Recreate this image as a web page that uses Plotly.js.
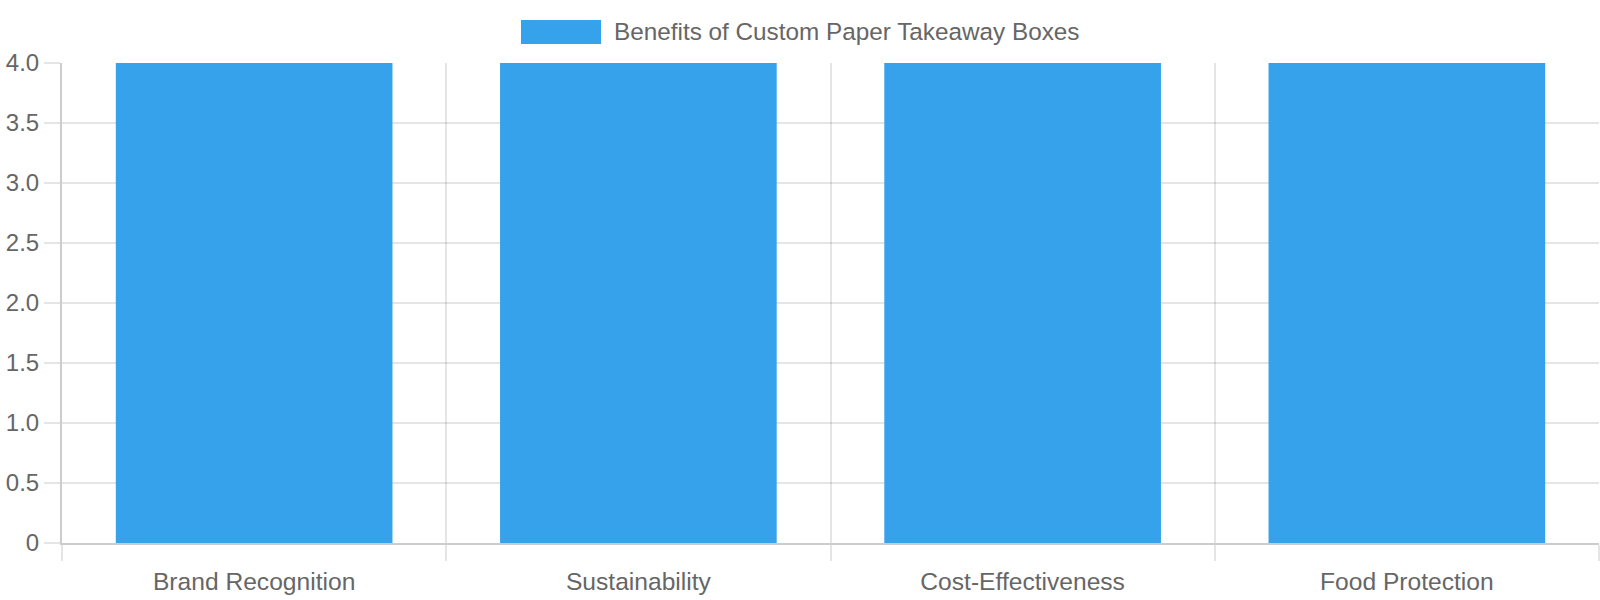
<!DOCTYPE html>
<html>
<head>
<meta charset="utf-8">
<script src="https://cdn.plot.ly/plotly-3.0.1.min.js"></script>
<style>
  html, body { margin: 0; padding: 0; background: #fff; }
  #chart { width: 1600px; height: 600px; }
</style>
</head>
<body>
<div id="chart"></div>
<script>
var seriesName = 'Benefits of Custom Paper Takeaway Boxes';
var categories = ['Brand Recognition', 'Sustainability', 'Cost-Effectiveness', 'Food Protection'];
var values = [4, 4, 4, 4];
var yTickVals = [0, 0.5, 1, 1.5, 2, 2.5, 3, 3.5, 4];
var yTickText = ['0', '0.5', '1.0', '1.5', '2.0', '2.5', '3.0', '3.5', '4.0'];

var barColor = '#36a2eb';
var gridColor = 'rgba(0,0,0,0.1)';
var axisColor = 'rgba(0,0,0,0.2)';
var textColor = '#666666';
var fontFamily = '"Liberation Sans", Arial, sans-serif';
var fontSize = 24.6;

var W = 1600, H = 600;
var margin = {l: 62, r: 1, t: 63, b: 57};
var plotW = W - margin.l - margin.r;
var plotH = H - margin.t - margin.b;
function px(x) { return (x - margin.l) / plotW; }
function py(y) { return (H - margin.b - y) / plotH; }

var trace = {
  type: 'bar',
  name: seriesName,
  x: categories,
  y: values,
  marker: {color: barColor},
  showlegend: false,
  hoverinfo: 'x+y'
};

var layout = {
  width: W,
  height: H,
  margin: margin,
  paper_bgcolor: '#fff',
  plot_bgcolor: '#fff',
  font: {family: fontFamily, size: fontSize, color: textColor},
  bargap: 0.28,
  showlegend: false,
  xaxis: {
    type: 'category',
    tickson: 'boundaries',
    ticks: 'outside',
    ticklen: 16,
    tickwidth: 2,
    tickcolor: gridColor,
    ticklabelstandoff: 15,
    showgrid: true,
    gridcolor: gridColor,
    gridwidth: 2,
    showline: true,
    linecolor: axisColor,
    linewidth: 2,
    tickfont: {family: fontFamily, size: fontSize, color: textColor},
    fixedrange: true
  },
  yaxis: {
    range: [0, 4],
    tickmode: 'array',
    tickvals: yTickVals,
    ticktext: yTickText,
    ticks: 'outside',
    ticklen: 16,
    tickwidth: 2,
    tickcolor: gridColor,
    showgrid: true,
    gridcolor: gridColor,
    gridwidth: 2,
    zeroline: false,
    showline: true,
    linecolor: axisColor,
    linewidth: 2,
    tickfont: {family: fontFamily, size: 24, color: textColor},
    fixedrange: true
  },
  // legend drawn like the original: wide swatch + label, centred above the plot
  shapes: [{
    type: 'rect',
    xref: 'paper', yref: 'paper',
    x0: px(521), x1: px(601),
    y0: py(44), y1: py(20),
    fillcolor: barColor,
    line: {width: 0}
  }],
  annotations: [{
    xref: 'paper', yref: 'paper',
    x: px(612), y: py(32),
    xanchor: 'left', yanchor: 'middle',
    text: seriesName,
    showarrow: false,
    font: {family: fontFamily, size: 24.3, color: textColor}
  }]
};

Plotly.newPlot('chart', [trace], layout, {displayModeBar: false, staticPlot: true});
</script>
</body>
</html>
